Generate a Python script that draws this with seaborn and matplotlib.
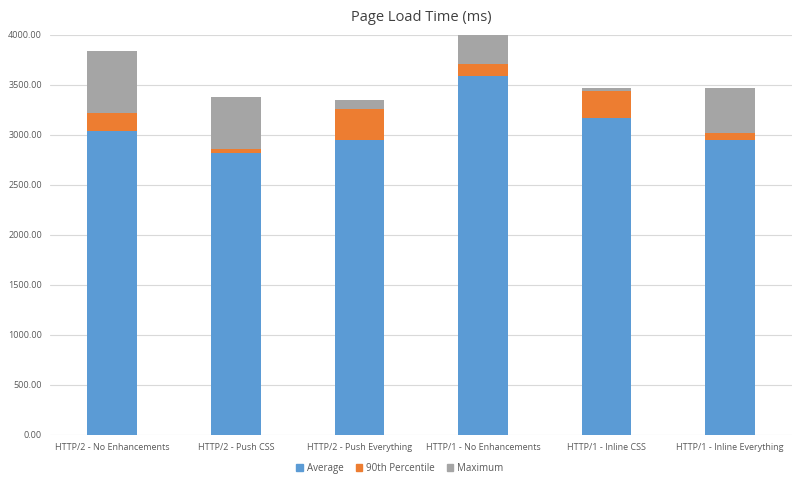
import matplotlib
matplotlib.use("Agg")
import matplotlib.pyplot as plt
import matplotlib.patches as mpatches
import seaborn as sns
import pandas as pd

# values (ms)
categories = ["HTTP/2 - No Enhancements", "HTTP/2 - Push CSS", "HTTP/2 - Push Everything",
              "HTTP/1 - No Enhancements", "HTTP/1 - Inline CSS", "HTTP/1 - Inline Everything"]
average = [3040, 2823, 2950, 3590, 3167, 2950]
p90 = [3217, 2860, 3257, 3710, 3443, 3023]
maximum = [3840, 3377, 3350, 4000, 3470, 3470]

df = pd.DataFrame({"cat": categories, "avg": average, "p90": p90, "max": maximum})

sns.set_style("white")
plt.rcParams['font.family'] = ['Open Sans', 'DejaVu Sans']

blue = "#5b9bd5"
orange = "#ed7d31"
gray = "#a5a5a5"

fig = plt.figure(figsize=(8, 4.78), dpi=100)
ax = fig.add_axes([0.063, 0.09, 0.927, 0.837])

# bars overlap, tallest drawn first
for col, c, z in [("max", gray, 2), ("p90", orange, 3), ("avg", blue, 4)]:
    sns.barplot(data=df, x="cat", y=col, color=c, width=0.4, saturation=1,
                linewidth=0, ax=ax, zorder=z)

ax.set_ylim(0, 4000)
ax.set_yticks(range(0, 4001, 500))
ax.set_yticklabels([f"{v:.2f}" for v in range(0, 4001, 500)])
ax.yaxis.grid(True, color="#d9d9d9", linewidth=0.8, zorder=0)
ax.set_axisbelow(True)
for s in ax.spines.values():
    s.set_visible(False)
ax.tick_params(axis="both", length=0, labelsize=6.5, colors="#595959", pad=6)
ax.set_xlabel("")
ax.set_ylabel("")

ax.set_title("Page Load Time (ms)", fontsize=10.5, color="#404040", pad=10)

handles = [mpatches.Patch(color=blue, label="Average"),
           mpatches.Patch(color=orange, label="90th Percentile"),
           mpatches.Patch(color=gray, label="Maximum")]
fig.legend(handles=handles, loc="lower center", bbox_to_anchor=(0.5, -0.01), ncol=3,
           frameon=False, fontsize=7, handlelength=0.7, handleheight=0.7,
           labelcolor="#595959", columnspacing=1.2, handletextpad=0.4)

fig.savefig("out.png", dpi=100)
